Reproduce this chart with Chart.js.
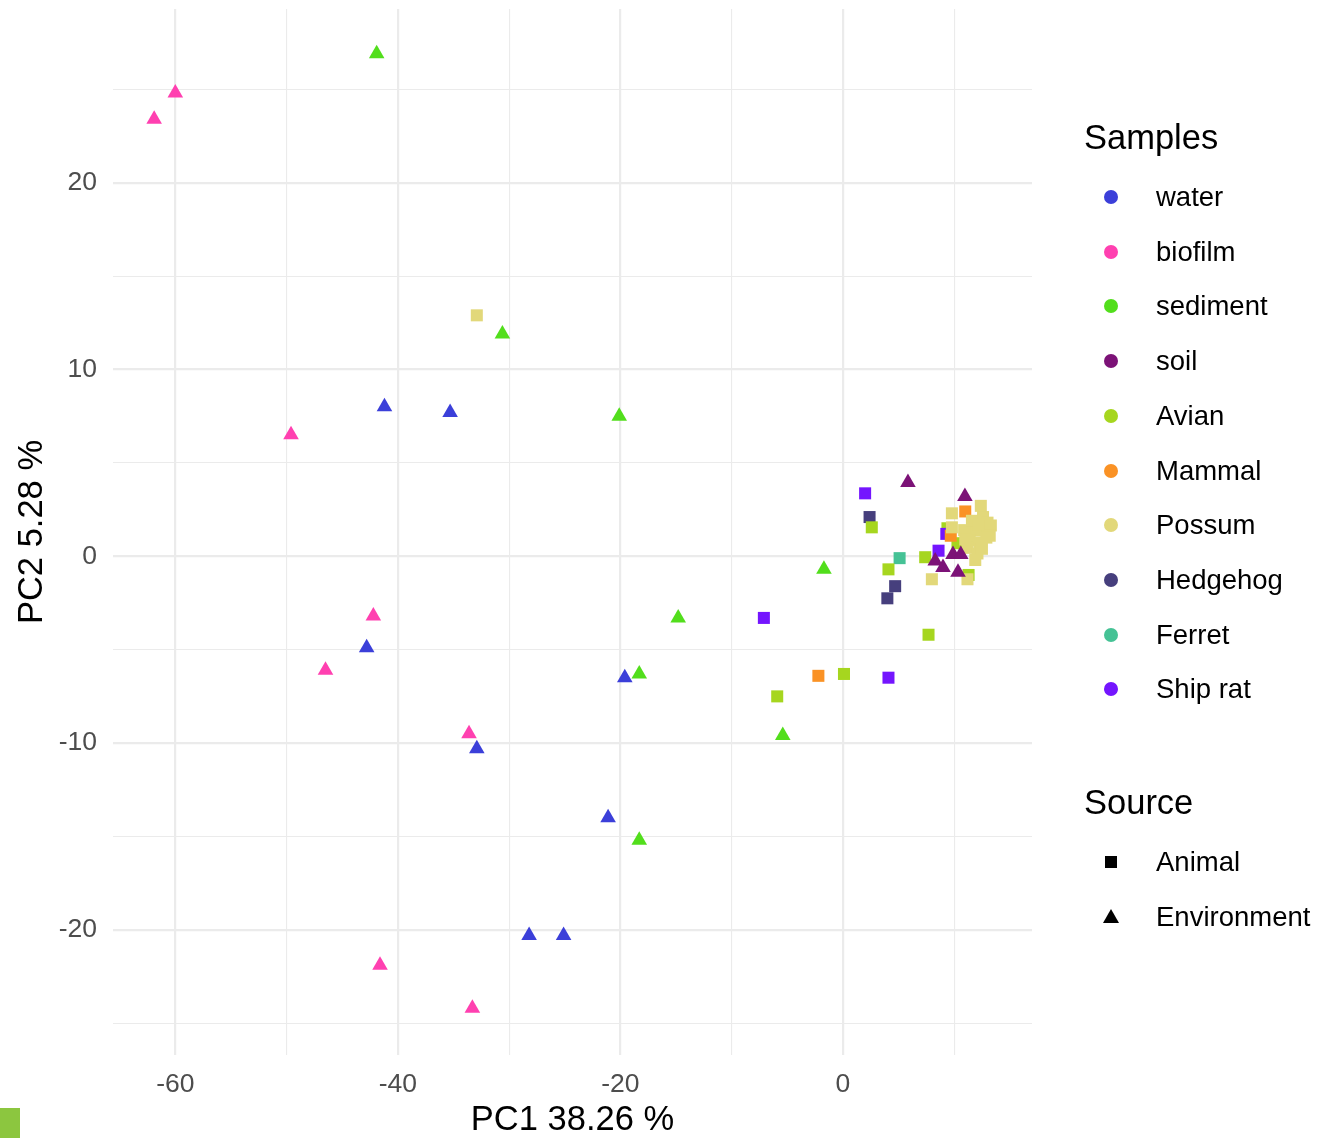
<!DOCTYPE html>
<html>
<head>
<meta charset="utf-8">
<script src="https://cdn.jsdelivr.net/npm/chart.js@4.4.1/dist/chart.umd.min.js"></script>
<style>
  html, body { margin:0; padding:0; background:#fff; }
  body { width:1321px; height:1138px; position:relative; overflow:hidden; font-family:"Liberation Sans", Arial, sans-serif; }
  #wrap { position:absolute; left:0; top:0; width:1321px; height:1138px; }
  .lg { position:absolute; white-space:nowrap; color:#000; }
  .lt { font-size:34.5px; line-height:40px; height:40px; }
  .li { font-size:27.5px; line-height:32px; height:32px; }
  .dot { position:absolute; width:14px; height:14px; border-radius:50%; }
  .sq { position:absolute; width:12px; height:12px; background:#000; }
  .tri { position:absolute; width:0; height:0; border-left:8px solid transparent; border-right:8px solid transparent; border-bottom:14px solid #000; }
  #artifact { position:absolute; left:0; top:1108px; width:20px; height:30px; background:#8cc63f; }
</style>
</head>
<body>
<div id="wrap"><canvas id="c" width="1321" height="1138"></canvas></div>
<div id="legend"></div>
<div id="artifact"></div>
<script>
// ---- data (PC1, PC2) ----
const sampleNames = ["water","biofilm","sediment","soil","Avian","Mammal","Possum","Hedgehog","Ferret","Ship rat"];
const sampleColors = ["#3b3fd9","#ff40b0","#52de1c","#7c1277","#a6d61f","#fa9225","#e2d87a","#463f7d","#45c295","#7415fe"];
const sourceNames = ["Animal","Environment"];

const water = [[-41.2,8.0],[-35.3,7.7],[-42.8,-4.9],[-19.6,-6.5],[-32.9,-10.3],[-21.1,-14.0],[-28.2,-20.3],[-25.1,-20.3]];
const biofilm = [[-60.0,24.8],[-61.9,23.4],[-49.6,6.5],[-42.2,-3.2],[-46.5,-6.1],[-33.6,-9.5],[-41.6,-21.9],[-33.3,-24.2]];
const sediment = [[-41.9,26.9],[-30.6,11.9],[-20.1,7.5],[-1.7,-0.7],[-14.8,-3.3],[-18.3,-6.3],[-5.4,-9.6],[-18.3,-15.2]];
const soil = [[5.85,3.95],[10.97,3.2],[9.0,-0.6],[10.35,-0.85],[9.9,0.1],[8.3,-0.25],[10.6,0.1]];
const avian = [[2.6,1.55],[4.1,-0.7],[7.4,-0.05],[7.7,-4.2],[-5.9,-7.5],[0.1,-6.3],[11.3,-1.0],[10.3,0.7],[9.4,1.5]];
const mammal = [[11.0,2.4],[9.7,1.1],[-2.2,-6.4]];
const possum = [[9.8,2.3],[9.8,1.55],[12.4,2.7],[12.6,2.1],[13.0,1.8],[12.8,1.4],[13.3,1.65],[13.2,1.1],[11.9,1.4],[10.9,1.4],[11.4,0.85],[12.3,0.75],[12.9,1.0],[11.2,0.45],[12.1,0.15],[11.9,-0.2],[11.6,1.9],[12.2,1.7],[11.0,0.9],[12.5,0.4],[8.0,-1.23],[11.2,-1.23],[-32.9,12.9]];
const hedgehog = [[2.4,2.1],[4.7,-1.6],[4.0,-2.25]];
const ferret = [[5.1,-0.1]];
const shipRat = [[2.0,3.37],[-7.1,-3.3],[4.1,-6.5],[9.3,1.2],[8.6,0.3]];

const xTicks = [-60,-50,-40,-30,-20,-10,0,10];
const yTicks = [-25,-20,-15,-10,-5,0,5,10,15,20,25];
const xLabelTicks = [-60,-40,-20,0];
const yLabelTicks = [-20,-10,0,10,20];

const groups = [water, biofilm, sediment, soil, avian, mammal, possum, hedgehog, ferret, shipRat];
const groupSource = ["Environment","Environment","Environment","Environment","Animal","Animal","Animal","Animal","Animal","Animal"];

// draw order: first dataset is drawn on top in Chart.js
const drawOrder = [3,0,1,2,6,5,9,4,7,8];
const datasets = drawOrder.map(i => ({
  label: sampleNames[i],
  data: groups[i].map(p => ({x:p[0], y:p[1]})),
  backgroundColor: sampleColors[i],
  borderColor: sampleColors[i],
  borderWidth: 0,
  pointStyle: groupSource[i] === "Animal" ? "rect" : "triangle",
  pointRadius: groupSource[i] === "Animal" ? 8.5 : 9,
  pointHoverRadius: groupSource[i] === "Animal" ? 8.5 : 9
}));

const gridMajor = "#ebebeb";
function gridOpts(labelSet) {
  return {
    drawTicks: false,
    color: ctx => gridMajor,
    lineWidth: ctx => (ctx.tick && labelSet.includes(ctx.tick.value)) ? 2.2 : 1.1
  };
}

new Chart(document.getElementById("c"), {
  type: "scatter",
  data: { datasets },
  options: {
    responsive: false,
    animation: false,
    events: [],
    layout: { padding: { left: 0, right: 289, top: 8, bottom: 0 } },
    plugins: { legend: { display: false }, tooltip: { enabled: false } },
    scales: {
      x: {
        type: "linear",
        min: -65.6, max: 17,
        afterBuildTicks: s => { s.ticks = xTicks.map(v => ({value: v})); },
        afterFit: s => { s.height = 83; s.paddingLeft = 0; s.paddingRight = 0; },
        border: { display: false },
        grid: gridOpts(xLabelTicks),
        ticks: {
          padding: 14,
          color: "#4d4d4d",
          font: { family: "Liberation Sans", size: 26.5 },
          autoSkip: false, maxRotation: 0,
          callback: v => xLabelTicks.includes(v) ? String(v) : ""
        },
        title: { display: true, text: "PC1 38.26 %", color: "#000",
          font: { family: "Liberation Sans", size: 34.5, lineHeight: 1.0 },
          padding: { top: 0, bottom: 0 } }
      },
      y: {
        type: "linear",
        min: -26.7, max: 29.3,
        afterBuildTicks: s => { s.ticks = yTicks.map(v => ({value: v})); },
        afterFit: s => { s.width = 113; s.paddingTop = 0; s.paddingBottom = 0; },
        border: { display: false },
        grid: gridOpts(yLabelTicks),
        ticks: {
          padding: 16,
          color: "#4d4d4d",
          font: { family: "Liberation Sans", size: 26.5 },
          autoSkip: false,
          callback: v => yLabelTicks.includes(v) ? String(v) : ""
        },
        title: { display: true, text: "PC2 5.28 %", color: "#000",
          font: { family: "Liberation Sans", size: 34.5, lineHeight: 1.2 },
          padding: { top: 12, bottom: 0 } }
      }
    }
  }
});

// ---- legend (HTML) ----
const lg = document.getElementById("legend");
function addText(cls, text, left, cy, h) {
  const d = document.createElement("div");
  d.className = "lg " + cls;
  d.textContent = text;
  d.style.left = left + "px";
  d.style.top = (cy - h/2) + "px";
  lg.appendChild(d);
}
addText("lt", "Samples", 1084, 137, 40);
sampleNames.forEach((n, i) => {
  const cy = 197 + i * 54.7;
  const dot = document.createElement("div");
  dot.className = "dot";
  dot.style.background = sampleColors[i];
  dot.style.left = (1111 - 7) + "px";
  dot.style.top = (cy - 7) + "px";
  lg.appendChild(dot);
  addText("li", n, 1156, cy, 32);
});
addText("lt", "Source", 1084, 802, 40);
sourceNames.forEach((n, i) => {
  const cy = 862 + i * 54.5;
  const m = document.createElement("div");
  if (n === "Animal") {
    m.className = "sq";
    m.style.left = (1111 - 6) + "px";
    m.style.top = (cy - 6) + "px";
  } else {
    m.className = "tri";
    m.style.left = (1111 - 8) + "px";
    m.style.top = (cy - 8) + "px";
  }
  lg.appendChild(m);
  addText("li", n, 1156, cy, 32);
});
</script>
</body>
</html>
